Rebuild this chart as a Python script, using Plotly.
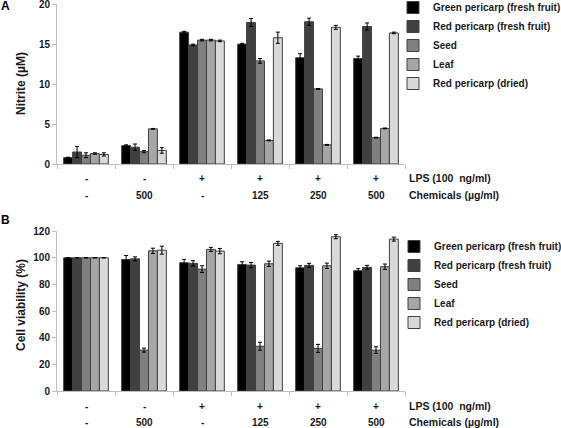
import plotly.graph_objects as go

W, H = 561, 428

series_names = ["Green pericarp (fresh fruit)", "Red pericarp (fresh fruit)", "Seed", "Leaf", "Red pericarp (dried)"]
series_colors = ["#000000", "#404040", "#808080", "#a6a6a6", "#d9d9d9"]

lps_labels = ["-", "-", "+", "+", "+", "+"]
chem_labels = ["-", "500", "-", "125", "250", "500"]
groups = [0, 1, 2, 3, 4, 5]

# Panel A: Nitrite (uM)
nitrite = [
    [0.8, 2.3, 16.5, 15.0, 13.3, 13.2],
    [1.5, 2.1, 14.9, 17.7, 17.8, 17.2],
    [1.1, 1.55, 15.5, 12.9, 9.4, 3.3],
    [1.3, 4.4, 15.5, 2.95, 2.4, 4.45],
    [1.2, 1.7, 15.4, 15.8, 17.1, 16.4],
]
nitrite_err = [
    [0.05, 0.1, 0.1, 0.1, 0.5, 0.3],
    [0.7, 0.4, 0.1, 0.5, 0.45, 0.45],
    [0.3, 0.15, 0.1, 0.3, 0.05, 0.05],
    [0.1, 0.05, 0.1, 0.05, 0.05, 0.05],
    [0.2, 0.35, 0.1, 0.7, 0.25, 0.1],
]
nitrite_ticks = [0, 5, 10, 15, 20]

# Panel B: Cell viability (%)
viability = [
    [100, 98.7, 96.3, 95.0, 92.5, 90.3],
    [100, 99.2, 95.8, 94.5, 94.3, 92.8],
    [100, 30.7, 91.5, 33.6, 32.0, 30.7],
    [100, 105.2, 106.3, 95.5, 94.0, 93.3],
    [100, 105.7, 105.0, 110.8, 115.8, 114.0],
]
viability_err = [
    [0, 3.0, 2.5, 2.0, 1.5, 1.5],
    [0, 1.5, 2.0, 2.0, 1.5, 1.5],
    [0, 1.5, 2.5, 3.0, 3.0, 2.5],
    [0, 2.0, 1.5, 2.0, 2.0, 2.0],
    [0, 3.0, 2.0, 1.5, 1.5, 1.5],
]
viability_ticks = [0, 20, 40, 60, 80, 100, 120]


def py(p):
    return 1 - p / H


def px(p):
    return p / W


FONT = "Liberation Sans, Arial, sans-serif"
fig = go.Figure()

for i, name in enumerate(series_names):
    fig.add_trace(go.Bar(
        x=groups, y=nitrite[i], name=name, xaxis="x", yaxis="y",
        marker=dict(color=series_colors[i], line=dict(color="#404040", width=1)),
        error_y=dict(type="data", array=nitrite_err[i], color="#000000", thickness=1, width=2),
        legend="legend",
    ))
for i, name in enumerate(series_names):
    fig.add_trace(go.Bar(
        x=groups, y=viability[i], name=name, xaxis="x2", yaxis="y2",
        marker=dict(color=series_colors[i], line=dict(color="#404040", width=1)),
        error_y=dict(type="data", array=viability_err[i], color="#000000", thickness=1, width=2),
        legend="legend2",
    ))

xdom = [px(57), px(405)]
xcommon = dict(
    domain=xdom, range=[-0.5, 5.5], showline=True, linecolor="#bfbfbf", linewidth=1,
    tickmode="array", tickvals=[-0.5, 0.5, 1.5, 2.5, 3.5, 4.5, 5.5], ticks="outside",
    ticklen=4, tickcolor="#bfbfbf", showticklabels=False, showgrid=False, zeroline=False,
)
ycommon = dict(
    showline=True, linecolor="#bfbfbf", linewidth=1, ticks="outside", ticklen=4,
    tickcolor="#bfbfbf", showgrid=False, zeroline=False, tickmode="array",
    ticklabeloverflow="allow",
    tickfont=dict(family=FONT, size=10, color="#1a1a1a", weight="bold"),
)

leg_font = dict(family=FONT, size=10, color="#1a1a1a", weight="bold")
fig.update_layout(
    width=W, height=H, margin=dict(l=0, r=0, t=0, b=0, autoexpand=False),
    paper_bgcolor="white", plot_bgcolor="white",
    barmode="group", bargap=0.23, bargroupgap=0.0,
    xaxis=dict(anchor="y", **xcommon),
    yaxis=dict(domain=[py(164), py(4)], range=[0, 20.02], tickvals=nitrite_ticks, anchor="x", **ycommon),
    xaxis2=dict(anchor="y2", **xcommon),
    yaxis2=dict(domain=[py(391), py(231)], range=[0, 120.1], tickvals=viability_ticks, anchor="x2", **ycommon),
    legend=dict(x=px(393), y=py(-7), xanchor="left", yanchor="top",
                bgcolor="rgba(0,0,0,0)", font=leg_font, itemclick=False, tracegroupgap=0),
    legend2=dict(x=px(394), y=py(232), xanchor="left", yanchor="top",
                 bgcolor="rgba(0,0,0,0)", font=leg_font, itemclick=False, tracegroupgap=0),
    showlegend=True,
)

ann = []
lab_font = dict(family=FONT, size=10, color="#1a1a1a", weight="bold")
for (row1, row2, xr) in [(178, 195, "x"), (406, 422, "x2")]:
    for g, a, b in zip(groups, lps_labels, chem_labels):
        ann.append(dict(x=g, y=py(row1), xref=xr, yref="paper", text=a, showarrow=False,
                        font=lab_font, xanchor="center", yanchor="middle"))
        ann.append(dict(x=g, y=py(row2), xref=xr, yref="paper", text=b, showarrow=False,
                        font=lab_font, xanchor="center", yanchor="middle"))
    ann.append(dict(x=px(407), y=py(row1), xref="paper", yref="paper", text="LPS (100  ng/ml)",
                    showarrow=False, font=dict(lab_font, size=10.5), xanchor="left", yanchor="middle"))
    ann.append(dict(x=px(407), y=py(row2), xref="paper", yref="paper", text="Chemicals (µg/ml)",
                    showarrow=False, font=dict(lab_font, size=10.5), xanchor="left", yanchor="middle"))

title_font = dict(family=FONT, size=12, color="#1a1a1a", weight="bold")
ann.append(dict(x=px(21), y=py(84), xref="paper", yref="paper", text="Nitrite (µM)", textangle=-90,
                showarrow=False, font=title_font, xanchor="center", yanchor="middle"))
ann.append(dict(x=px(21), y=py(305), xref="paper", yref="paper", text="Cell viability (%)", textangle=-90,
                showarrow=False, font=title_font, xanchor="center", yanchor="middle"))
ann.append(dict(x=px(5), y=py(6), xref="paper", yref="paper", text="A", showarrow=False,
                font=dict(family=FONT, size=12, color="#000", weight="bold"), xanchor="center", yanchor="middle"))
ann.append(dict(x=px(5), y=py(220), xref="paper", yref="paper", text="B", showarrow=False,
                font=dict(family=FONT, size=12, color="#000", weight="bold"), xanchor="center", yanchor="middle"))
fig.update_layout(annotations=ann)

fig.write_html("out.html")
